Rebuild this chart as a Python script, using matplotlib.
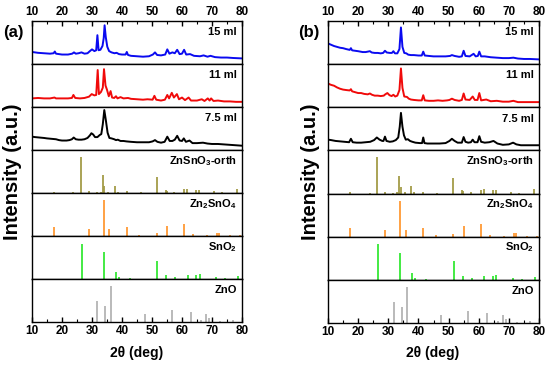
import matplotlib
matplotlib.use('Agg')
import matplotlib.pyplot as plt
from matplotlib.ticker import MultipleLocator

plt.rcParams['font.family'] = ['Liberation Sans', 'DejaVu Sans']
plt.rcParams['font.weight'] = 'bold'
plt.rcParams['mathtext.fontset'] = 'custom'
plt.rcParams['mathtext.rm'] = 'Liberation Sans:bold'
plt.rcParams['mathtext.bf'] = 'Liberation Sans:bold'

a15 = [(10, .28), (12, .26), (14, .25), (16, .24), (17.2, .25), (17.6, .29), (18, .24), (20, .22), (22, .22),
       (23.4, .24), (24, .27), (24.6, .24), (25.5, .25), (26.5, .27), (27.5, .24), (28.5, .25), (29.3, .3),
       (30, .34), (30.8, .3), (31.4, .32), (31.8, .67), (32.2, .32), (32.8, .33), (33.5, .42), (33.9, .6),
       (34.2, .9), (34.6, .62), (35.1, .4), (35.7, .3), (36.5, .27), (37.5, .25), (38.2, .26), (39, .23),
       (40, .22), (41.2, .22), (41.6, .28), (42, .21), (43, .19), (45, .18), (47, .17), (49, .18), (50.3, .22),
       (51, .27), (51.7, .21), (53, .2), (54.4, .22), (55.1, .34), (55.8, .24), (56.8, .27), (57.6, .25),
       (58.4, .33), (59.2, .23), (60, .24), (60.7, .33), (61.4, .22), (62.7, .23), (64, .19), (66, .18),
       (67.2, .2), (68.5, .17), (69.5, .19), (71, .16), (73, .15), (75, .15), (77, .14), (80, .13)]
a11 = [(10, .2), (12, .21), (14, .2), (16, .2), (17.5, .22), (18, .2), (20, .2), (22, .2), (23.3, .21),
       (23.8, .28), (24.4, .21), (26, .2), (27.5, .21), (29, .24), (29.9, .3), (30.8, .27), (31.4, .28),
       (31.9, .86), (32.3, .3), (33, .35), (33.6, .45), (34, .88), (34.5, .5), (35, .4), (35.6, .25),
       (36.2, .37), (36.7, .22), (37.4, .21), (38, .25), (38.5, .2), (39.5, .23), (40.5, .2), (42, .21),
       (43, .19), (45, .18), (47, .17), (48.5, .18), (50.2, .17), (50.8, .26), (51.4, .17), (53, .15),
       (54.3, .17), (55.1, .28), (55.7, .2), (56.6, .33), (57.3, .22), (58.3, .3), (59, .18), (60, .22),
       (61, .16), (62.2, .22), (63, .15), (65, .15), (66.6, .18), (67.5, .14), (68.6, .2), (69.2, .15),
       (69.7, .2), (70.5, .14), (72, .15), (74, .13), (76, .13), (78, .12), (80, .12)]
a75 = [(10, .31), (11, .3), (12.5, .29), (14, .28), (15, .27), (16.5, .26), (18, .25), (19, .23), (20, .22),
       (21.5, .22), (22.5, .23), (23.3, .25), (23.9, .29), (24.6, .25), (25.5, .24), (26.5, .24), (27.5, .25),
       (28.5, .28), (29.3, .34), (29.8, .39), (30.4, .36), (31, .3), (31.8, .3), (32.6, .35), (33.1, .37),
       (33.6, .6), (34.1, .93), (34.6, .7), (35.2, .4), (35.8, .28), (36.5, .27), (37.4, .25), (38, .23),
       (38.6, .24), (39.5, .21), (40.5, .21), (41.5, .2), (43, .19), (45, .18), (47, .18), (49, .18),
       (50.2, .2), (51, .23), (51.8, .19), (53, .17), (54.2, .19), (55.1, .31), (55.9, .21), (56.8, .21),
       (57.6, .24), (58.4, .33), (59.2, .22), (60, .21), (60.6, .27), (61.3, .19), (62.5, .22), (63.5, .16),
       (65, .16), (67, .17), (68.5, .15), (70, .14), (72, .14), (74, .13), (76, .12), (78, .11), (80, .1)]

b15 = [(10, .48), (11, .45), (12, .42), (13, .4), (14, .38), (15, .37), (16, .35), (17.2, .33), (17.6, .37),
       (18, .32), (19, .31), (20, .3), (21.5, .28), (22.5, .28), (23.9, .3), (24.5, .27), (25.5, .26),
       (26.5, .26), (27.5, .25), (28.3, .26), (28.9, .31), (29.5, .27), (30.5, .26), (31.2, .26), (31.7, .3),
       (32.2, .25), (33, .25), (33.7, .35), (34.2, .85), (34.7, .4), (35.3, .26), (36, .25), (36.6, .22),
       (37.5, .21), (38.5, .21), (40, .2), (41.1, .2), (41.6, .29), (42.1, .2), (43.5, .19), (45, .18),
       (47, .18), (49, .18), (50.5, .19), (51.1, .21), (52, .19), (53.5, .17), (54.4, .18), (55, .31),
       (55.6, .19), (57, .18), (58.3, .24), (59, .18), (59.7, .19), (60.2, .29), (60.8, .18), (62, .18),
       (64, .16), (66, .15), (68, .14), (70, .14), (71.5, .15), (73, .13), (75, .12), (77, .12), (80, .11)]
b11 = [(10, .55), (11, .52), (12, .5), (13, .46), (14, .43), (15, .41), (16, .4), (17.2, .39), (17.6, .42),
       (18, .37), (19, .35), (20, .33), (21, .33), (22, .31), (23.2, .3), (23.9, .32), (24.6, .29),
       (25.5, .27), (26.5, .27), (27.5, .26), (28.5, .27), (29, .3), (29.7, .33), (30.4, .28), (31.1, .26),
       (31.7, .29), (32.3, .25), (33, .27), (33.7, .4), (34.2, .9), (34.7, .45), (35.3, .25), (36.2, .24),
       (36.8, .2), (37.5, .18), (38.5, .17), (40, .16), (41.1, .16), (41.6, .28), (42.1, .16), (43.5, .15),
       (45, .15), (46.5, .16), (48, .15), (49.5, .16), (50.3, .17), (51.1, .2), (52, .17), (53.5, .15),
       (54.4, .17), (55, .32), (55.6, .18), (57, .17), (58, .25), (58.7, .17), (59.6, .17), (60.2, .33),
       (60.8, .16), (62.5, .18), (64, .14), (66, .15), (68, .13), (70, .13), (71.5, .15), (73, .12),
       (75, .12), (77, .12), (80, .12)]
b75 = [(10, .25), (11, .24), (12.5, .22), (14, .21), (15.5, .2), (17, .19), (17.6, .27), (18.2, .19),
       (19.5, .18), (21, .18), (22.5, .19), (24, .2), (25.3, .24), (26.2, .3), (27.1, .25), (28, .22),
       (28.4, .22), (28.9, .32), (29.4, .22), (30.5, .2), (31.5, .21), (32.5, .24), (33.3, .3), (33.8, .55),
       (34.2, .87), (34.7, .55), (35.2, .35), (35.8, .25), (36.5, .26), (37.2, .22), (38, .2), (39, .18),
       (40.5, .17), (41.2, .17), (41.6, .3), (42, .17), (43, .16), (45, .16), (47, .16), (49, .17),
       (50.3, .22), (51.1, .27), (52, .22), (53, .18), (54.4, .18), (55, .31), (55.6, .2), (56.5, .18),
       (57.4, .19), (58, .25), (58.6, .19), (59.6, .19), (60.2, .33), (60.8, .2), (62, .18), (63.5, .19),
       (64.9, .22), (66.2, .16), (68, .13), (70, .14), (71.4, .18), (72.5, .14), (74, .12), (76, .12),
       (78, .12), (80, .12)]

# ---- reference patterns (stick positions / relative heights) ----
znsno3_pos = [17.4, 23.8, 26.2, 28.9, 31.5, 33.0, 33.6, 34.1, 35.4, 37.7, 38.6, 41.6, 46.3, 51.6, 54.6,
              54.9, 57.4, 60.7, 61.8, 64.7, 65.7, 70.8, 73.2, 78.4]
znsno3_h = [.03, .02, .84, .04, .02, .03, .41, .16, .03, .17, .03, .04, .02, .37, .08,
            .05, .03, .09, .1, .08, .08, .04, .02, .1]
zn2sno4_pos = [17.4, 29.0, 33.9, 35.8, 41.6, 45.7, 51.6, 55.1, 60.6, 63.6, 68.4, 71.6, 72.3, 76.0, 79.3]
zn2sno4_h = [.2, .16, .83, .16, .2, .03, .07, .24, .29, .04, .02, .08, .08, .02, .02]
sno2_pos = [26.6, 33.9, 37.9, 38.9, 42.6, 51.8, 54.8, 57.8, 61.9, 64.7, 65.9, 71.3, 74.4, 78.7]
sno2_h = [.82, .62, .16, .04, .02, .43, .1, .05, .09, .09, .11, .04, .02, .06]
zno_pos = [31.8, 34.4, 36.3, 47.5, 56.6, 62.9, 66.4, 67.9, 69.1, 72.6, 77.0]
zno_h = [.48, .37, .84, .19, .27, .23, .04, .19, .1, .03, .05]

curve_labels = ['15 ml', '11 ml', '7.5 ml']
curve_colors = ['#0a0af0', '#f00a0a', 'black']
stick_labels = [r'ZnSnO$_\mathbf{3}$-orth', r'Zn$_\mathbf{2}$SnO$_\mathbf{4}$', r'SnO$_\mathbf{2}$', 'ZnO']
stick_colors = ['#a49c48', '#ff9a35', '#35e835', '#b4b4b4']
sticks = [(znsno3_pos, znsno3_h), (zn2sno4_pos, zn2sno4_h), (sno2_pos, sno2_h), (zno_pos, zno_h)]

W, H = 550, 365
fig = plt.figure(figsize=(W / 100, H / 100), dpi=100)


def panel(x0, x1, top, bottom, curves, tag, ylab_x, xlab_x):
    n = 7
    h = (bottom - top) / n
    axs = []
    for i in range(n):
        ax = fig.add_axes([x0 / W, 1 - (top + (i + 1) * h) / H, (x1 - x0) / W, h / H])
        ax.set_xlim(10, 80)
        ax.set_ylim(0, 1)
        ax.set_yticks([])
        for s in ax.spines.values():
            s.set_linewidth(1.0)
        ax.xaxis.set_major_locator(MultipleLocator(10))
        ax.xaxis.set_minor_locator(MultipleLocator(5))
        ax.tick_params(axis='x', which='both', direction='in', bottom=False, top=False,
                       labelbottom=False, labeltop=False, labelsize=8.5, pad=2)
        ax.tick_params(axis='x', which='major', length=3.5, width=1)
        ax.tick_params(axis='x', which='minor', length=2, width=0.8)
        axs.append(ax)
        if i < 3:
            pts = curves[i]
            ax.plot([p[0] for p in pts], [p[1] for p in pts], color=curve_colors[i], lw=1.4)
            ax.text(0.975, 0.74, curve_labels[i], transform=ax.transAxes, ha='right', va='center',
                    fontsize=8, fontweight='bold')
        else:
            pos, hh = sticks[i - 3]
            ax.vlines(pos, 0, hh, color=stick_colors[i - 3], lw=1.3)
            ax.text(0.975, 0.75, stick_labels[i - 3], transform=ax.transAxes, ha='right', va='center',
                    fontsize=8, fontweight='bold')
    axs[0].tick_params(axis='x', which='both', top=True, labeltop=True)
    axs[-1].tick_params(axis='x', which='both', bottom=True, labelbottom=True)
    for lab in axs[0].get_xticklabels() + axs[-1].get_xticklabels():
        lab.set_fontweight('bold')
    fig.text(ylab_x / W, 1 - (top + bottom) / 2 / H, 'Intensity (a.u.)', rotation=90, ha='center',
             va='center', fontsize=14.5, fontweight='bold')
    fig.text(xlab_x / W, 1 - 353 / H, '2θ (deg)', ha='center', va='center', fontsize=10, fontweight='bold')
    fig.text((x0 - 19) / W, 1 - 33 / H, tag, ha='center', va='center', fontsize=12, fontweight='bold')


panel(32, 242, 21, 322, [a15, a11, a75], '(a)', 13, 137)
panel(328, 539, 21, 323, [b15, b11, b75], '(b)', 310, 433)

fig.savefig('out.png', dpi=100)
